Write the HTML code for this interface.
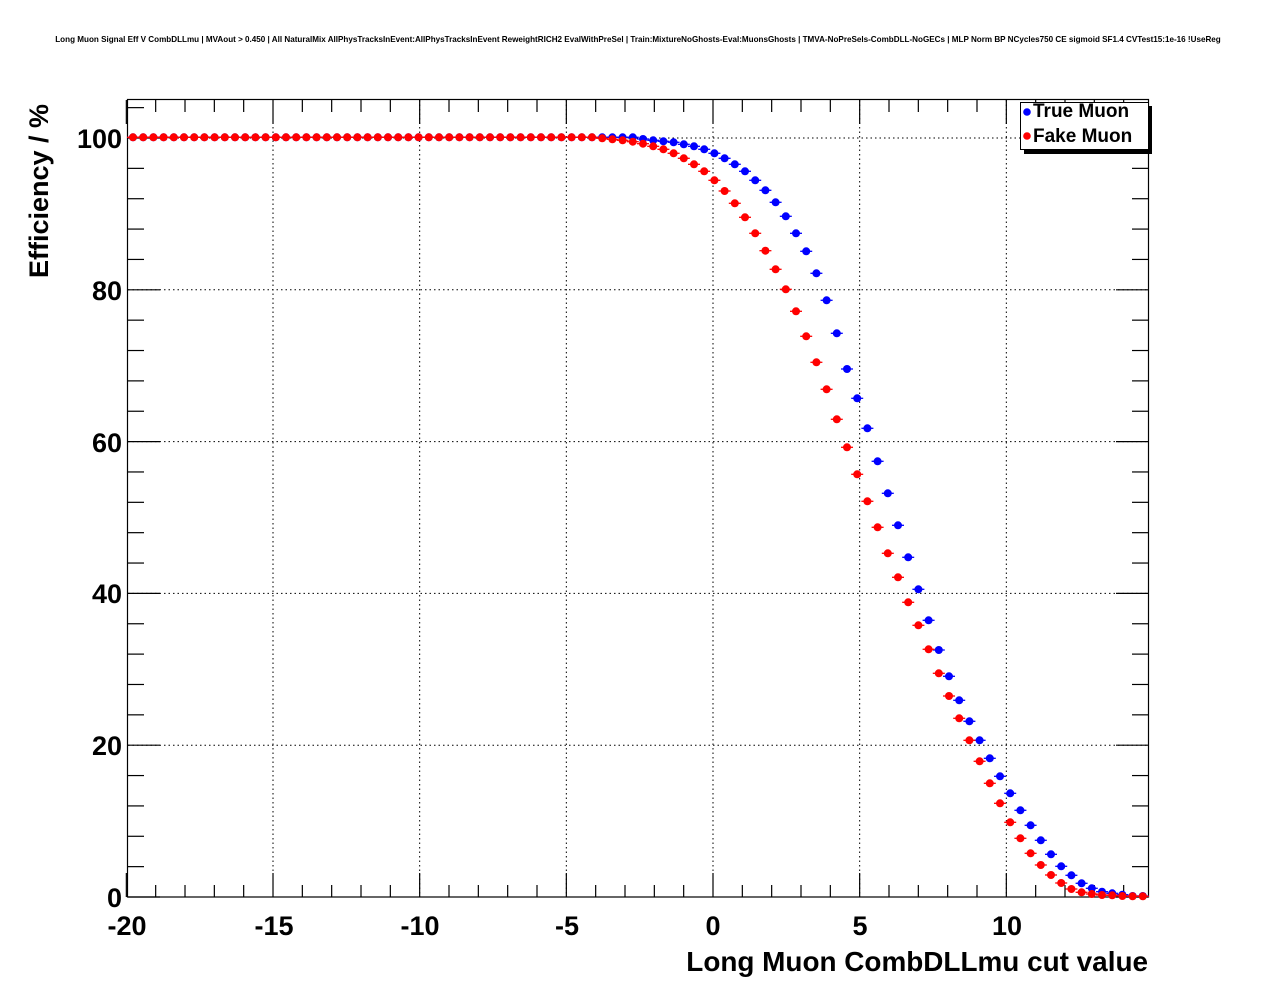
<!DOCTYPE html>
<html><head><meta charset="utf-8"><style>
body{margin:0;background:#fff;}
svg{display:block;font-family:"Liberation Sans",Arial,sans-serif;}
</style></head><body>
<svg width="1276" height="996" viewBox="0 0 1276 996" xmlns="http://www.w3.org/2000/svg" id="s">
<rect width="1276" height="996" fill="#fff"/>
<text x="638" y="42" font-size="8.1" font-weight="bold" text-anchor="middle">Long Muon Signal Eff V CombDLLmu | MVAout &gt; 0.450 | All NaturalMix AllPhysTracksInEvent:AllPhysTracksInEvent ReweightRICH2 EvalWithPreSel | Train:MixtureNoGhosts-Eval:MuonsGhosts | TMVA-NoPreSels-CombDLL-NoGECs | MLP Norm BP NCycles750 CE sigmoid SF1.4 CVTest15:1e-16 !UseReg</text>
<g id="grid" stroke="#000" stroke-width="1" stroke-dasharray="1.5,3"></g>
<rect x="127.5" y="99.5" width="1021" height="797.5" fill="none" stroke="#000" stroke-width="1.2"/>
<g id="ticks" stroke="#000" stroke-width="1.2"></g>
<g font-size="27" font-weight="bold" text-anchor="middle">
<text x="127" y="935">-20</text><text x="274" y="935">-15</text><text x="420" y="935">-10</text><text x="567" y="935">-5</text><text x="713" y="935">0</text><text x="860" y="935">5</text><text x="1007" y="935">10</text>
</g>
<g font-size="27" font-weight="bold" text-anchor="end">
<text x="122" y="907">0</text><text x="122" y="755">20</text><text x="122" y="603">40</text><text x="122" y="452">60</text><text x="122" y="300">80</text><text x="122" y="148">100</text>
</g>
<text x="1148" y="971" font-size="27.9" font-weight="bold" text-anchor="end">Long Muon CombDLLmu cut value</text>
<text transform="translate(48,278) rotate(-90)" font-size="27" font-weight="bold">Efficiency / %</text>
<g id="pts"></g>
<rect x="1024" y="106" width="128" height="48" fill="#000"/>
<rect x="1020.5" y="102.5" width="128" height="47" fill="#fff" stroke="#000"/>
<circle cx="1027" cy="112" r="3.8" fill="#00f"/><text x="1033" y="117" font-size="19" font-weight="bold">True Muon</text>
<circle cx="1027" cy="136" r="3.8" fill="#f00"/><text x="1033" y="142" font-size="19" font-weight="bold">Fake Muon</text>
</svg>
<script>
var ns="http://www.w3.org/2000/svg";
function el(p,t,a){var e=document.createElementNS(ns,t);for(var k in a)e.setAttribute(k,a[k]);document.getElementById(p).appendChild(e);}
var X0=713,SX=29.333,Y0=897,SY=7.59;
[-15,-10,-5,0,5,10].forEach(function(v){var x=X0+v*SX;el("grid","line",{x1:x,x2:x,y1:100,y2:897});});
[20,40,60,80,100].forEach(function(v){var y=Y0-v*SY;el("grid","line",{x1:128,x2:1148,y1:y,y2:y});});
for(var v=-20;v<=14;v++){var x=X0+v*SX,L=(v%5==0)?24:12;el("ticks","line",{x1:x,x2:x,y1:897,y2:897-L});el("ticks","line",{x1:x,x2:x,y1:100,y2:100+L});}
for(var v=0;v<=104;v+=4){var y=Y0-v*SY,L=(v%20==0)?32:16;el("ticks","line",{x1:128,x2:128+L,y1:y,y2:y});el("ticks","line",{x1:1148,x2:1148-L,y1:y,y2:y});}
var B={50:139,51:140.3,52:141.3,53:142.3,54:144.3,55:146.3,56:149.3,57:153.3,58:158.3,59:164.3,60:171.3,61:180.3,62:190.3,63:202.3,64:216.3,65:233.3,66:251.3,67:273.3,68:300.3,69:333.3,70:369,71:398.3,72:428.3,73:461.3,74:493.3,75:525.3,76:557.3,77:589.3,78:620.3,79:650,80:676.3,81:700.3,82:721.3,83:740.3,84:758.3,85:776.3,86:793.3,87:810.3,88:825.3,89:840.3,90:854.3,91:866.3,92:875.3,93:883.3,94:888.3,95:891.7,96:893.3,97:894.7,98:896,99:896};
var R={46:138.3,47:139.3,48:140.3,49:141.7,50:143.7,51:146.3,52:149.3,53:153.3,54:158.3,55:164.3,56:171.3,57:180.3,58:191,59:203.3,60:217.3,61:233.3,62:250.7,63:269.3,64:289.3,65:311.3,66:336.3,67:362.3,68:389.3,69:419.3,70:447.3,71:474.3,72:501.3,73:527.3,74:553.3,75:577.3,76:602.3,77:625.3,78:649.3,79:673.3,80:696,81:718.3,82:740.3,83:761.3,84:783.3,85:803.3,86:822.3,87:838.3,88:853.3,89:865,90:875,91:883,92:889,93:892.3,94:894,95:895,96:895.3,97:896,98:896.3,99:896.3};
function draw(D,c){for(var k=0;k<100;k++){var x=133+10.2*k,y=(D[k]!==undefined)?D[k]:137.3;el("pts","line",{x1:x-6,x2:x+6,y1:y,y2:y,stroke:c,"stroke-width":1.3});el("pts","circle",{cx:x,cy:y,r:4,fill:c});}}
draw(B,"#00f");draw(R,"#f00");
</script>
</body></html>
